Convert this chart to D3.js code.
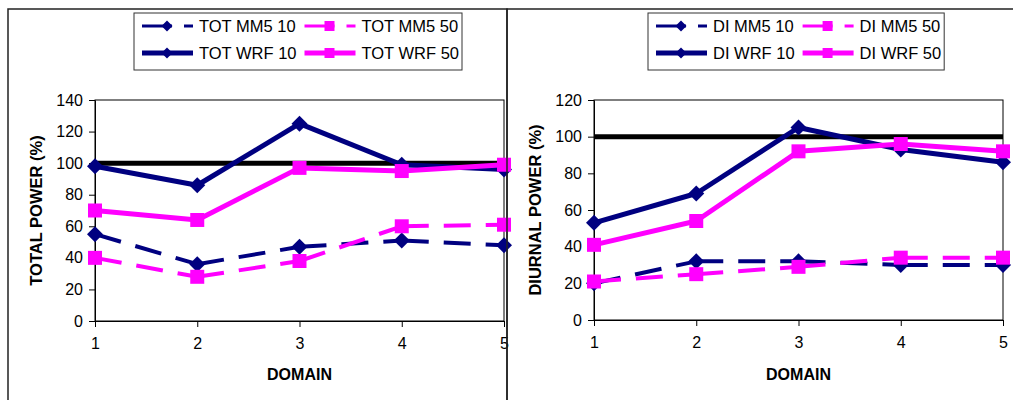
<!DOCTYPE html>
<html>
<head>
<meta charset="utf-8">
<script src="https://cdn.jsdelivr.net/npm/d3@7"></script>
<style>
  body { margin: 0; background: #fff; }
  svg { display: block; font-family: "Liberation Sans", Arial, sans-serif; }
</style>
</head>
<body>
<div id="chart"></div>
<script>
// chart size
var width = 1013,
    height = 400;

// data
var domains = [1, 2, 3, 4, 5];
var referenceValue = 100;

var totTicks = [0, 20, 40, 60, 80, 100, 120, 140];
var totMM5_10 = [55, 36, 47, 51, 48];
var totMM5_50 = [40, 28, 38, 60, 61];
var totWRF_10 = [98, 86, 125, 99, 96];
var totWRF_50 = [70, 64, 97, 95, 99];

var diTicks = [0, 20, 40, 60, 80, 100, 120];
var diMM5_10 = [20, 32, 32, 30, 30];
var diMM5_50 = [21, 25, 29, 34, 34];
var diWRF_10 = [53, 69, 105, 93, 86];
var diWRF_50 = [41, 54, 92, 96, 92];

var totNames = ["TOT MM5 10", "TOT MM5 50", "TOT WRF 10", "TOT WRF 50"];
var diNames = ["DI MM5 10", "DI MM5 50", "DI WRF 10", "DI WRF 50"];

var navy = "#000080",
    pink = "#ff00ff";

var svg = d3.select("#chart")
    .append("svg")
    .attr("width", width)
    .attr("height", height);

// marker shapes
function diamond(s) {
    return "M0," + (-s) + "L" + s + ",0L0," + s + "L" + (-s) + ",0Z";
}
function square(s) {
    return "M" + (-s) + "," + (-s) + "h" + (2 * s) + "v" + (2 * s) + "h" + (-2 * s) + "Z";
}

function drawPanel(p) {
    // panel frame
    svg.append("rect")
        .attr("x", p.frameX)
        .attr("y", 9)
        .attr("width", p.frameW)
        .attr("height", 420)
        .attr("fill", "none")
        .attr("stroke", "#222")
        .attr("stroke-width", 1.5);

    var g = svg.append("g");

    var x = d3.scaleLinear()
        .domain([1, 5])
        .range([p.left, p.right]);
    var y = d3.scaleLinear()
        .domain([0, d3.max(p.ticks)])
        .range([p.bottom, 100]);

    // plot frame
    g.append("rect")
        .attr("x", p.left)
        .attr("y", 100)
        .attr("width", p.right - p.left)
        .attr("height", p.bottom - 100)
        .attr("fill", "none")
        .attr("stroke", "#000")
        .attr("stroke-width", 1);

    var yAxis = d3.axisLeft(y)
        .tickValues(p.ticks)
        .tickSize(6)
        .tickSizeOuter(0)
        .tickPadding(6);
    g.append("g")
        .attr("transform", "translate(" + p.left + ",0)")
        .call(yAxis);

    var xAxis = d3.axisBottom(x)
        .tickValues(domains)
        .tickFormat(d3.format("d"))
        .tickSize(6)
        .tickSizeOuter(0)
        .tickPadding(11);
    g.append("g")
        .attr("transform", "translate(0," + p.bottom + ")")
        .call(xAxis);

    g.selectAll(".domain").attr("stroke", "#000");
    g.selectAll(".tick line").attr("stroke", "#000");
    g.selectAll(".tick text")
        .attr("font-size", "16px")
        .attr("font-family", "Liberation Sans, Arial, sans-serif")
        .attr("fill", "#000");

    // axis titles
    g.append("text")
        .text("DOMAIN")
        .attr("x", (p.left + p.right) / 2)
        .attr("y", 380)
        .attr("text-anchor", "middle")
        .attr("font-weight", "bold")
        .attr("font-size", "16px");

    g.append("text")
        .text(p.yTitle)
        .attr("transform", "translate(" + p.yTitleX + "," + ((100 + p.bottom) / 2) + ") rotate(-90)")
        .attr("text-anchor", "middle")
        .attr("font-weight", "bold")
        .attr("font-size", "16.5px");

    // 100 % reference
    g.append("line")
        .attr("x1", p.left)
        .attr("x2", p.right)
        .attr("y1", y(referenceValue))
        .attr("y2", y(referenceValue))
        .attr("stroke", "#000")
        .attr("stroke-width", 5);

    var series = [
        { name: p.names[0], values: p.mm5_10, color: navy, dashed: true, shape: "diamond" },
        { name: p.names[1], values: p.mm5_50, color: pink, dashed: true, shape: "square" },
        { name: p.names[2], values: p.wrf_10, color: navy, dashed: false, shape: "diamond" },
        { name: p.names[3], values: p.wrf_50, color: pink, dashed: false, shape: "square" }
    ];

    series.forEach(function(s) {
        var pts = s.values.map(function(v, i) { return [x(domains[i]), y(v)]; });
        // each segment dashed on its own, like the original
        for (var i = 0; i < pts.length - 1; i++) {
            g.append("path")
                .attr("d", d3.line()([pts[i], pts[i + 1]]))
                .attr("fill", "none")
                .attr("stroke", s.color)
                .attr("stroke-width", s.dashed ? 4 : 5)
                .attr("stroke-dasharray", s.dashed ? "27,15" : null);
        }
        g.selectAll(null)
            .data(pts)
            .enter()
            .append("path")
            .attr("transform", function(d) { return "translate(" + d[0] + "," + d[1] + ")"; })
            .attr("d", s.shape == "diamond" ? diamond(8) : square(7))
            .attr("fill", s.color);
    });

    // legend
    var lg = svg.append("g");
    var box = lg.append("rect")
        .attr("y", 13)
        .attr("height", 57)
        .attr("fill", "#fff")
        .attr("stroke", "#333")
        .attr("stroke-width", 1);

    var rows = [26, 53];
    var col1 = p.legendX + 8;
    var items = [];
    series.forEach(function(s, i) {
        var t = lg.append("text")
            .text(s.name)
            .attr("y", rows[Math.floor(i / 2)] + 6)
            .attr("font-size", "16.5px");
        items.push({ s: s, t: t, row: rows[Math.floor(i / 2)], col: i % 2 });
    });
    var w1 = d3.max(items.filter(function(d) { return d.col == 0; }), function(d) { return d.t.node().getComputedTextLength(); });
    var col2 = col1 + 51 + 6 + w1 + 8;
    var w2 = d3.max(items.filter(function(d) { return d.col == 1; }), function(d) { return d.t.node().getComputedTextLength(); });

    items.forEach(function(d) {
        var sx = d.col == 0 ? col1 : col2;
        d.t.attr("x", sx + 57);
        lg.append("line")
            .attr("x1", sx)
            .attr("x2", sx + 51)
            .attr("y1", d.row)
            .attr("y2", d.row)
            .attr("stroke", d.s.color)
            .attr("stroke-width", d.s.dashed ? 3 : 5)
            .attr("stroke-dasharray", d.s.dashed ? "30,12" : null);
        lg.append("path")
            .attr("transform", "translate(" + (sx + 25) + "," + d.row + ")")
            .attr("d", d.s.shape == "diamond" ? diamond(5.5) : square(5))
            .attr("fill", d.s.color);
    });

    box.attr("x", p.legendX)
        .attr("width", col2 + 57 + w2 + 3 - p.legendX);
}

drawPanel({
    frameX: 8, frameW: 499,
    left: 95, right: 504, bottom: 321,
    ticks: totTicks, yTitle: "TOTAL POWER (%)", yTitleX: 42,
    names: totNames,
    mm5_10: totMM5_10, mm5_50: totMM5_50, wrf_10: totWRF_10, wrf_50: totWRF_50,
    legendX: 134
});

drawPanel({
    frameX: 507, frameW: 520,
    left: 594, right: 1003, bottom: 320,
    ticks: diTicks, yTitle: "DIURNAL POWER (%)", yTitleX: 541,
    names: diNames,
    mm5_10: diMM5_10, mm5_50: diMM5_50, wrf_10: diWRF_10, wrf_50: diWRF_50,
    legendX: 648
});
</script>
</body>
</html>
